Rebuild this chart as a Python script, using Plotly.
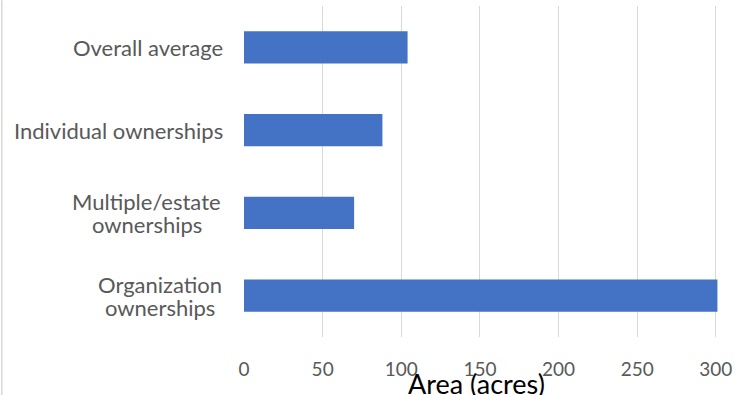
import plotly.graph_objects as go

categories = ["Overall average", "Individual ownerships",
              "Multiple/estate<br>ownerships", "Organization<br>ownerships"]
values = [104, 88, 70, 301]
x_ticks = [0, 50, 100, 150, 200, 250, 300]

W, H = 740, 395
L, R, T, B = 244.3, 740 - 244.3 - 472 * 302 / 300, 5.7, 395 - 336.7
pw = W - L - R
ph = H - T - B

fig = go.Figure(go.Bar(
    x=values, y=categories, orientation="h",
    marker=dict(color="#4472C4", line=dict(width=0)),
    width=0.387,
))

label_font = dict(family="Lato", size=22, color="#595959")
line_gap = 23
label_right = 224          # right edge of the label column (px)
two_line_centers = [147, 160]  # centre (px) of the two-line label blocks
annotations = []
two_line_idx = 0
for c in categories:
    lines = c.split("<br>")
    n = len(lines)
    if n == 1:
        annotations.append(dict(
            x=0, xref="paper", y=c, yref="y", xanchor="right", yanchor="middle",
            xshift=label_right - L, text=c, showarrow=False, font=label_font,
            borderpad=0,
        ))
    else:
        cx = two_line_centers[two_line_idx]
        two_line_idx += 1
        for i, ln in enumerate(lines):
            annotations.append(dict(
                x=0, xref="paper", y=c, yref="y", xanchor="center", yanchor="middle",
                xshift=cx - L, yshift=((n - 1) / 2 - i) * line_gap,
                text=ln, showarrow=False, font=label_font, borderpad=0,
            ))

annotations.append(dict(
    x=(477 - L) / pw, xref="paper", y=0, yref="paper", xanchor="center", yanchor="middle",
    yshift=-46, text="Area (acres)", showarrow=False,
    font=dict(family="Lato", size=27, color="#000000"),
))

fig.update_layout(
    width=W, height=H,
    margin=dict(l=L, r=R, t=T, b=B, pad=0),
    paper_bgcolor="white", plot_bgcolor="white",
    showlegend=False,
    annotations=annotations,
    font=dict(family="Lato", size=19, color="#595959"),
    shapes=[dict(type="line", xref="paper", yref="paper",
                 x0=(2 - L) / pw, x1=(2 - L) / pw,
                 y0=-B / ph, y1=(ph + T) / ph,
                 line=dict(color="#d9d9d9", width=1.5))],
)
fig.update_xaxes(
    range=[0, 302], tickvals=x_ticks, ticktext=[str(v) for v in x_ticks],
    showgrid=True, gridcolor="#d9d9d9", gridwidth=1.3,
    zeroline=False, showline=False, ticks="",
    ticklabelstandoff=19,
    tickfont=dict(family="Lato", size=19, color="#595959"),
    fixedrange=True,
)
fig.update_yaxes(
    categoryorder="array", categoryarray=categories[::-1],
    showticklabels=False, showgrid=False, zeroline=False, showline=False,
    fixedrange=True,
)
fig.write_html("out.html")
